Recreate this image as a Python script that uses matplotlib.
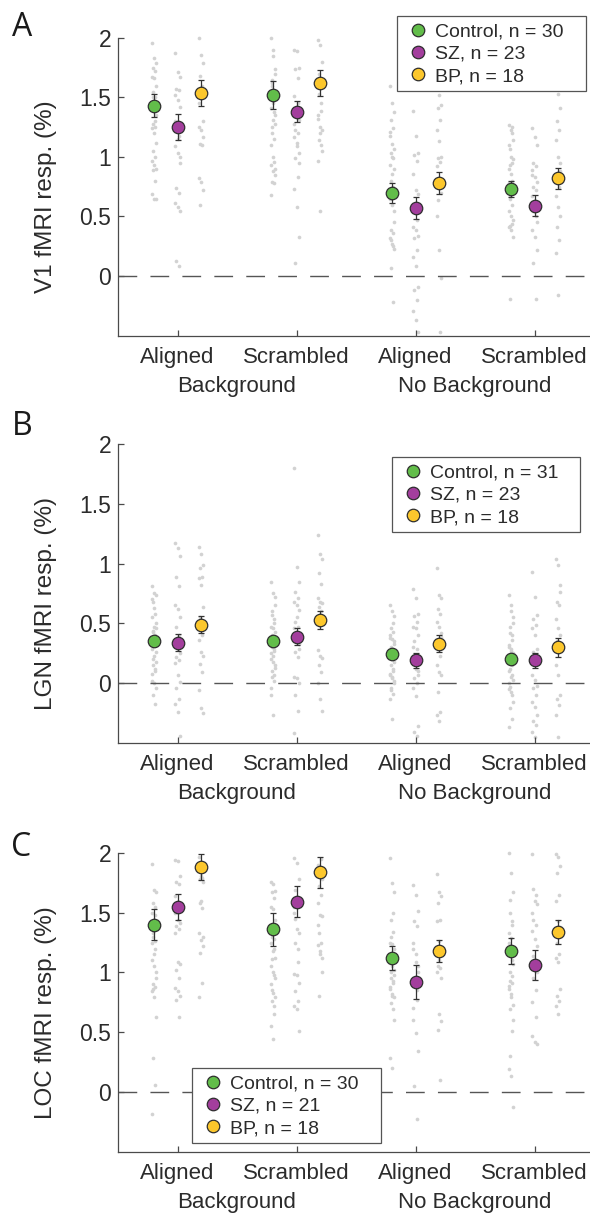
import matplotlib
matplotlib.use("Agg")
import matplotlib.pyplot as plt
from matplotlib.lines import Line2D
from matplotlib.patches import Rectangle

plt.rcParams['font.family'] = ['Liberation Sans', 'DejaVu Sans']

# ---------------- data ----------------
conditions = ['Aligned', 'Scrambled', 'Aligned', 'Scrambled']
context_labels = ['Background', 'No Background']
groups = ['Control', 'SZ', 'BP']
group_colors = ['#62bd4a', '#a33e9d', '#fcc72c']

v1_n = [30, 23, 18]
lgn_n = [31, 23, 18]
loc_n = [30, 21, 18]

v1_mean_ctrl = [1.43, 1.52, 0.70, 0.73]
v1_mean_sz = [1.25, 1.38, 0.57, 0.59]
v1_mean_bp = [1.54, 1.62, 0.78, 0.82]
v1_sem_ctrl = [0.095, 0.115, 0.085, 0.065]
v1_sem_sz = [0.11, 0.09, 0.09, 0.09]
v1_sem_bp = [0.11, 0.11, 0.09, 0.085]

lgn_mean_ctrl = [0.35, 0.35, 0.24, 0.20]
lgn_mean_sz = [0.34, 0.39, 0.19, 0.19]
lgn_mean_bp = [0.49, 0.53, 0.33, 0.30]
lgn_sem_ctrl = [0.035, 0.035, 0.03, 0.04]
lgn_sem_sz = [0.07, 0.07, 0.06, 0.06]
lgn_sem_bp = [0.07, 0.075, 0.07, 0.08]

loc_mean_ctrl = [1.40, 1.36, 1.12, 1.18]
loc_mean_sz = [1.55, 1.59, 0.92, 1.06]
loc_mean_bp = [1.88, 1.84, 1.18, 1.34]
loc_sem_ctrl = [0.13, 0.14, 0.10, 0.11]
loc_sem_sz = [0.11, 0.13, 0.14, 0.125]
loc_sem_bp = [0.11, 0.13, 0.09, 0.10]

v1_dots_ctrl = [
    [1.96, 1.83, 1.79, 1.75, 1.72, 1.67, 1.66, 1.6, 1.55, 1.5, 1.45, 1.4, 1.35, 1.28, 1.25, 1.24, 1.2, 1.12, 1.05, 1.0, 0.97, 0.93, 0.9, 0.89, 0.8, 0.69, 0.65, 0.65, 1.5, 1.3],
    [2.0, 1.9, 1.74, 1.65, 1.53, 1.41, 1.31, 1.28, 1.20, 0.96, 0.93, 0.88, 0.85, 0.79, 0.78, 0.68, 1.85, 1.7, 1.6, 1.55, 1.5, 1.45, 1.35, 1.25, 1.15, 1.1, 1.0, 0.9, 1.62, 1.38],
    [1.60, 1.45, 1.38, 1.31, 1.24, 1.18, 1.11, 1.07, 1.03, 0.99, 0.93, 0.86, 0.55, 0.39, 0.36, 0.32, 0.27, 0.23, 0.07, -0.22, 1.21, 1.0, 0.9, 0.8, 0.75, 0.65, 0.6, 0.45, 0.3, 0.25],
    [1.27, 1.23, 1.14, 1.07, 0.95, 0.90, 0.86, 0.72, 0.67, 0.44, 0.41, 0.39, 0.33, -0.19, 1.2, 1.1, 1.0, 0.98, 0.93, 0.8, 0.78, 0.75, 0.7, 0.65, 0.6, 0.55, 0.5, 0.47, 0.42, 1.25]]
v1_dots_sz = [
    [1.87, 1.71, 1.67, 1.57, 1.56, 1.52, 1.48, 1.42, 1.23, 1.18, 1.09, 1.03, 1.0, 0.74, 0.70, 0.61, 0.58, 0.55, 0.13, 0.08, 1.3, 1.15, 0.95],
    [1.90, 1.89, 1.75, 1.74, 1.66, 1.51, 1.38, 1.31, 1.23, 1.20, 1.17, 1.09, 1.03, 0.99, 0.83, 0.73, 0.58, 0.33, 0.11, 1.45, 1.28, 1.12, 0.95],
    [1.39, 1.18, 1.03, 1.02, 0.97, 0.86, 0.72, 0.69, 0.55, 0.47, 0.41, 0.39, 0.34, 0.32, 0.22, 0.16, 0.08, -0.09, -0.12, -0.2, -0.29, -0.37, -0.47],
    [1.24, 1.17, 1.10, 0.95, 0.92, 0.89, 0.83, 0.79, 0.75, 0.72, 0.67, 0.61, 0.58, 0.55, 0.50, 0.39, 0.33, 0.22, 0.11, -0.19, 0.85, 0.62, 0.45]]
v1_dots_bp = [
    [2.0, 1.86, 1.79, 1.68, 1.6, 1.25, 1.23, 1.17, 1.11, 1.1, 0.82, 0.79, 0.72, 0.6, 1.5, 1.45, 1.55, 1.3],
    [1.98, 1.94, 1.62, 1.53, 1.39, 1.32, 1.25, 1.23, 1.14, 1.10, 0.97, 0.55, 1.8, 1.7, 1.45, 1.35, 1.2, 1.05],
    [1.6, 1.52, 1.44, 1.41, 1.31, 1.23, 1.13, 1.0, 0.99, 0.96, 0.92, 0.75, 0.70, 0.64, -0.47, 0.50, 0.22, -0.02],
    [1.7, 1.53, 1.41, 1.30, 1.23, 1.14, 1.0, 0.95, 0.84, 0.75, 0.67, 0.58, 0.50, 0.41, 0.30, 0.19, -0.16, 0.88]]

lgn_dots_ctrl = [
    [0.81, 0.75, 0.74, 0.68, 0.58, 0.55, 0.47, 0.46, 0.43, 0.40, 0.29, 0.23, 0.18, 0.15, 0.12, 0.08, 0.0, -0.04, -0.1, -0.17, 0.7, 0.63, 0.5, 0.44, 0.38, 0.35, 0.32, 0.26, 0.2, 0.1, 0.02],
    [0.85, 0.75, 0.72, 0.57, 0.54, 0.47, 0.46, 0.43, 0.40, 0.29, 0.25, 0.23, 0.15, 0.10, 0.07, -0.04, -0.27, 0.65, 0.6, 0.5, 0.38, 0.35, 0.32, 0.3, 0.27, 0.2, 0.18, 0.13, 0.05, 0.02, -0.1],
    [0.65, 0.6, 0.56, 0.46, 0.43, 0.40, 0.37, 0.35, 0.30, 0.12, 0.07, 0.04, 0.0, -0.04, -0.09, -0.13, -0.30, 0.33, 0.28, 0.25, 0.22, 0.2, 0.18, 0.15, 0.1, 0.08, 0.05, 0.02, -0.06, 0.5, 0.38],
    [0.74, 0.65, 0.55, 0.47, 0.40, 0.32, 0.29, 0.25, 0.12, 0.07, 0.0, -0.07, -0.16, -0.21, -0.3, -0.37, 0.6, 0.5, 0.42, 0.36, 0.3, 0.27, 0.22, 0.18, 0.15, 0.1, 0.05, 0.03, -0.03, -0.1, -0.05]]
lgn_dots_sz = [
    [1.17, 1.13, 1.06, 0.89, 0.81, 0.65, 0.62, 0.55, 0.47, 0.40, 0.35, 0.29, 0.25, 0.22, 0.19, 0.17, 0.07, 0.01, -0.04, -0.13, -0.17, -0.24, -0.44],
    [1.80, 0.97, 0.85, 0.76, 0.71, 0.68, 0.65, 0.61, 0.51, 0.47, 0.46, 0.39, 0.29, 0.26, 0.22, 0.05, 0.04, 0.0, -0.10, -0.23, -0.42, 0.55, 0.33],
    [0.79, 0.71, 0.58, 0.56, 0.51, 0.47, 0.46, 0.40, 0.35, 0.29, 0.23, 0.12, 0.07, 0.04, 0.0, -0.04, -0.11, -0.36, -0.41, -0.44, 0.3, 0.15, 0.1],
    [0.93, 0.72, 0.57, 0.54, 0.49, 0.46, 0.40, 0.29, 0.26, 0.15, 0.07, 0.03, -0.02, -0.04, -0.1, -0.16, -0.2, -0.27, -0.32, -0.35, -0.41, -0.45, 0.2]]
lgn_dots_bp = [
    [1.14, 1.08, 0.99, 0.96, 0.89, 0.88, 0.82, 0.64, 0.55, 0.40, 0.36, 0.26, 0.23, 0.16, 0.09, -0.06, -0.21, -0.25],
    [1.24, 1.08, 1.04, 0.92, 0.83, 0.71, 0.68, 0.67, 0.64, 0.6, 0.28, 0.23, 0.21, 0.15, 0.09, 0.0, -0.13, -0.23],
    [0.96, 0.74, 0.71, 0.62, 0.58, 0.51, 0.47, 0.39, 0.33, 0.23, 0.15, 0.09, 0.07, -0.07, -0.24, -0.27, -0.32, 0.42],
    [1.04, 0.99, 0.76, 0.68, 0.65, 0.54, 0.46, 0.40, 0.35, 0.29, 0.15, 0.07, -0.1, -0.13, -0.18, -0.27, -0.45, 0.82]]

loc_dots_ctrl = [
    [1.91, 1.69, 1.67, 1.58, 1.55, 1.50, 1.44, 1.36, 1.30, 1.26, 1.25, 1.15, 0.95, 0.90, 0.88, 0.84, 0.79, 0.63, 0.28, 0.06, -0.19, 1.42, 1.38, 1.33, 1.2, 1.1, 1.05, 1.0, 0.86, 1.48],
    [1.76, 1.74, 1.68, 1.67, 1.62, 1.55, 1.53, 1.44, 1.30, 1.28, 1.25, 1.18, 1.12, 1.11, 0.98, 0.90, 0.83, 0.79, 0.76, 0.72, 0.55, 0.44, 1.4, 1.35, 1.2, 1.05, 1.0, 0.95, 0.85, 0.65],
    [1.96, 1.75, 1.67, 1.44, 1.34, 1.25, 1.24, 0.98, 0.955, 0.91, 0.86, 0.80, 0.79, 0.745, 0.69, 0.28, 0.20, 1.2, 1.15, 1.1, 1.08, 1.05, 1.02, 1.0, 0.93, 0.88, 0.82, 0.6, 1.3, 1.5],
    [2.0, 1.83, 1.67, 1.61, 1.43, 1.33, 1.29, 1.07, 0.93, 0.91, 0.86, 0.79, 0.73, 0.69, 0.51, 0.19, 0.13, -0.13, 1.5, 1.4, 1.25, 1.2, 1.15, 1.0, 0.97, 0.89, 0.82, 0.6, 0.3, 1.1]]
loc_dots_sz = [
    [1.94, 1.93, 1.81, 1.76, 1.74, 1.64, 1.44, 1.41, 1.39, 1.36, 1.33, 1.09, 1.07, 1.02, 0.95, 0.87, 0.84, 0.80, 0.77, 0.63, 1.5],
    [1.96, 1.92, 1.78, 1.69, 1.61, 1.50, 1.36, 1.33, 1.25, 1.09, 0.99, 0.98, 0.91, 0.84, 0.76, 0.72, 0.69, 0.51, 1.45, 1.2, 1.55],
    [1.73, 1.65, 1.51, 1.43, 1.39, 1.25, 1.09, 1.05, 0.91, 0.77, 0.70, 0.49, 0.34, 0.05, -0.23, 1.2, 1.15, 1.0, 0.95, 0.85, 0.6],
    [1.99, 1.60, 1.57, 1.44, 1.40, 1.35, 1.28, 1.22, 1.14, 0.63, 0.47, 0.42, 0.40, 1.7, 1.65, 1.5, 1.1, 1.0, 0.95, 0.85, 0.75]]
loc_dots_bp = [
    [1.97, 1.81, 1.76, 1.58, 1.54, 1.33, 1.27, 1.22, 1.16, 0.91, 0.79, 1.9, 1.85, 1.78, 1.79, 1.88, 1.6, 1.3],
    [1.58, 1.48, 1.47, 1.33, 1.25, 1.23, 1.18, 1.12, 0.80, 1.95, 1.9, 1.82, 1.78, 1.72, 1.65, 1.4, 1.15, 1.0],
    [1.82, 1.67, 1.64, 1.58, 1.44, 1.43, 1.26, 1.16, 1.05, 1.04, 1.0, 0.65, 0.59, 0.52, 0.10, 1.2, 1.1, 0.95],
    [1.99, 1.97, 1.89, 1.83, 1.65, 1.60, 1.43, 1.32, 1.25, 1.15, 1.12, 1.09, 0.86, 0.80, 0.76, 0.72, 0.65, 1.38]]

yticks = [0, 0.5, 1, 1.5, 2]
ytick_labels = ['0', '0.5', '1', '1.5', '2']

panels = [
    dict(letter='A', ylabel='V1 fMRI resp. (%)', n=v1_n,
         means=[v1_mean_ctrl, v1_mean_sz, v1_mean_bp], sems=[v1_sem_ctrl, v1_sem_sz, v1_sem_bp],
         dots=[v1_dots_ctrl, v1_dots_sz, v1_dots_bp]),
    dict(letter='B', ylabel='LGN fMRI resp. (%)', n=lgn_n,
         means=[lgn_mean_ctrl, lgn_mean_sz, lgn_mean_bp], sems=[lgn_sem_ctrl, lgn_sem_sz, lgn_sem_bp],
         dots=[lgn_dots_ctrl, lgn_dots_sz, lgn_dots_bp]),
    dict(letter='C', ylabel='LOC fMRI resp. (%)', n=loc_n,
         means=[loc_mean_ctrl, loc_mean_sz, loc_mean_bp], sems=[loc_sem_ctrl, loc_sem_sz, loc_sem_bp],
         dots=[loc_dots_ctrl, loc_dots_sz, loc_dots_bp]),
]

# ---------------- layout (pixels) ----------------
W, H = 590, 1217
fig = plt.figure(figsize=(W / 100, H / 100), dpi=100)
fig.patch.set_facecolor('white')
PX = 0.72  # points per pixel at 100 dpi

ax_boxes = [(32, 335.5), (438, 743), (847, 1151.5)]
letter_pos = [(22, 28), (22, 427), (21, 847)]
legend_boxes = [(397, 16, 586, 91), (392, 457, 580, 532), (192, 1068, 381, 1143)]

axis_col = '#4a4a4a'
text_col = '#2b2b2b'
group_offsets = [-0.2, 0.0, 0.2]
jit = [-0.018, 0.0, 0.018, -0.009, 0.009]


def fx(px):
    return px / W


def fy(py):
    return 1 - py / H


for p, (top, bot), lp, lb in zip(panels, ax_boxes, letter_pos, legend_boxes):
    left, right = 118, 594
    ax = fig.add_axes([fx(left), fy(bot), (right - left) / W, (bot - top) / H])
    ax.set_xlim(0.5, 4.5)
    ax.set_ylim(-0.5, 2.05)
    ax.set_facecolor('none')
    for s in ['top', 'right']:
        ax.spines[s].set_visible(False)
    for s in ['left', 'bottom']:
        ax.spines[s].set_color(axis_col)
        ax.spines[s].set_linewidth(0.9)
    ax.spines['left'].set_bounds(-0.5, 2)

    # individual dots
    for gi in range(3):
        for ci in range(4):
            vals = p['dots'][gi][ci]
            xs = [ci + 1 + group_offsets[gi] + jit[k % len(jit)] for k in range(len(vals))]
            ax.scatter(xs, vals, s=7, color='#d2d2d2', linewidths=0, zorder=1, clip_on=False)

    # zero line
    ax.axhline(0, color='#555555', lw=1.0, dashes=(13.5, 9.5), zorder=2)

    # means +/- sem
    for gi in range(3):
        xs = [ci + 1 + group_offsets[gi] for ci in range(4)]
        ax.errorbar(xs, p['means'][gi], yerr=p['sems'][gi], fmt='o', ms=9,
                    mfc=group_colors[gi], mec='#2e2e2e', mew=0.9,
                    ecolor='#333333', elinewidth=0.9, capsize=2.3, capthick=0.9, zorder=3)

    ax.set_xticks([1, 2, 3, 4])
    ax.set_xticklabels(conditions)
    ax.set_yticks(yticks)
    ax.set_yticklabels(ytick_labels)
    ax.tick_params(axis='both', direction='in', length=4, width=0.9, color=axis_col,
                   labelcolor=text_col)
    ax.tick_params(axis='x', pad=8, labelsize=16)
    ax.tick_params(axis='y', pad=5, labelsize=16.5)

    for k, lab in enumerate(context_labels):
        ax.annotate(lab, xy=(1.5 + 2 * k, 0), xycoords=('data', 'axes fraction'),
                    xytext=(0, -51 * PX), textcoords='offset points',
                    ha='center', va='center', fontsize=16, color=text_col)

    ax.set_ylabel(p['ylabel'], fontsize=17.5, color=text_col)
    ax.yaxis.set_label_coords((57 - left) / (right - left), 0.456)

    fig.text(fx(lp[0]), fy(lp[1]), p['letter'], fontsize=23, ha='center', va='center',
             color='#1a1a1a', family=['Open Sans', 'DejaVu Sans'])

    # legend frame
    x0, y0, x1, y1 = lb
    rect = Rectangle((fx(x0), fy(y1)), (x1 - x0) / W, (y1 - y0) / H, transform=fig.transFigure,
                     facecolor='white', edgecolor='#555555', linewidth=0.9, zorder=4)
    fig.add_artist(rect)
    handles = [Line2D([], [], ls='', marker='o', ms=9, mfc=group_colors[gi], mec='#2e2e2e', mew=0.9)
               for gi in range(3)]
    labels = [f'{groups[gi]}, n = {p["n"][gi]}' for gi in range(3)]
    leg = fig.legend(handles, labels, loc='upper left',
                     bbox_to_anchor=(fx(x0 + 13), fy(y0 + 7)), bbox_transform=fig.transFigure,
                     fontsize=14, frameon=False, borderaxespad=0, borderpad=0,
                     handlelength=0.8, handletextpad=0.5, labelspacing=0.24)
    for t in leg.get_texts():
        t.set_color(text_col)
    leg.set_zorder(6)

fig.savefig('out.png', dpi=100, facecolor='white')
